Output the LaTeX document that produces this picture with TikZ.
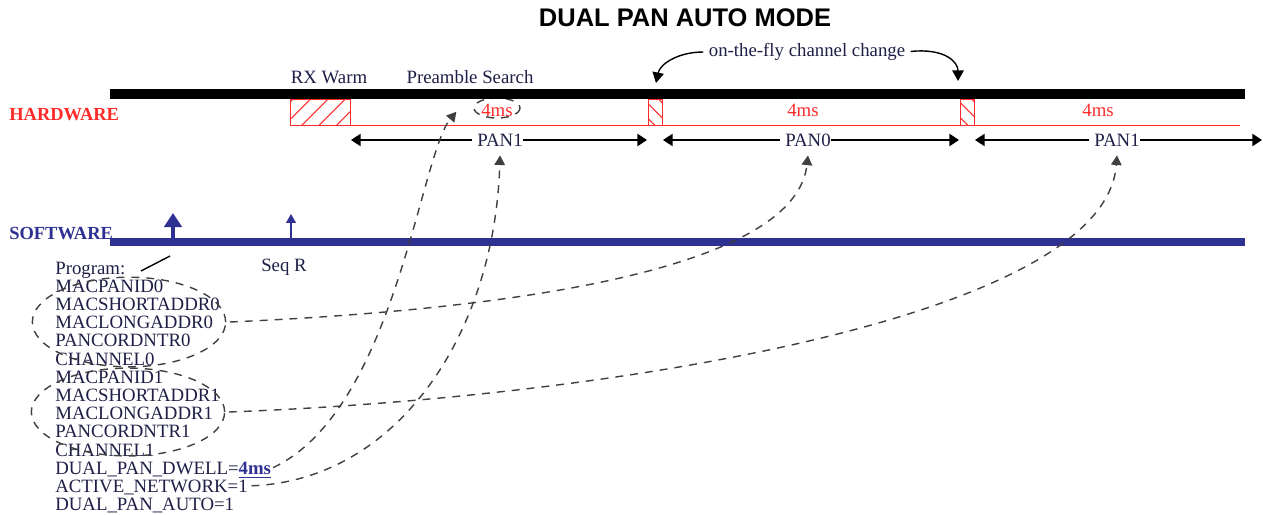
\documentclass[tikz,border=0pt]{standalone}
\usepackage{fontspec}
\setmainfont{Liberation Serif}
\newfontfamily\titlefont{Liberation Sans}
\usetikzlibrary{arrows.meta,patterns.meta,shapes.geometric}

\begin{document}
\begin{tikzpicture}[x=0.02cm, y=-0.02cm,
    lbl/.style={font=\fontsize{10.7}{12}\selectfont, text=txtdark, inner sep=0pt},
    lst/.style={lbl, anchor=base west, text height=7.5pt, text depth=0pt},
    redlbl/.style={font=\fontsize{10.7}{12}\selectfont, text=hwred, inner sep=0pt},
    span/.style={-{Triangle[length=5.5pt, width=7pt]}, thick},
    link/.style={-{Triangle[length=5.5pt, width=6pt]}, dashed, dash pattern=on 4.5pt off 4pt, thick, dimgray},
    group/.style={draw=dimgray, dashed, dash pattern=on 4.5pt off 4pt, thick, ellipse, inner sep=0pt}
]

    % Color definition
    \definecolor{hwred}{HTML}{FF2A2A}
    \definecolor{swblue}{HTML}{2E3192}
    \definecolor{txtdark}{HTML}{1E1E46}
    \definecolor{dimgray}{HTML}{404040}

    \useasboundingbox (0,0) rectangle (1263,514);

    % === Title ===
    \node[font=\titlefont\bfseries\fontsize{14.5}{16}\selectfont] (title) at (685,18) {DUAL PAN AUTO MODE};

    % === HARDWARE timeline ===
    \node[font=\bfseries\fontsize{10.5}{12}\selectfont, text=hwred, anchor=west, inner sep=0pt] (hw) at (9,115) {HARDWARE};
    % small dashed ring round the first dwell (drawn under the bar)
    \draw[dimgray, dashed, dash pattern=on 4.5pt off 4pt, thick] (497,108) ellipse [x radius=23, y radius=10];
    \draw[line width=5.6pt] (110,94) -- (1245,94);

    % Warm-up and channel switch slots (hatched)
    \draw[hwred, pattern={Lines[angle=45, distance=7pt, line width=0.6pt]}, pattern color=hwred] (290,99) rectangle (350,125);
    \draw[hwred, pattern={Lines[angle=-45, distance=6pt, line width=0.6pt]}, pattern color=hwred] (648,99) rectangle (662,125);
    \draw[hwred, pattern={Lines[angle=-45, distance=6pt, line width=0.6pt]}, pattern color=hwred] (960,99) rectangle (974,125);
    \draw[hwred] (350,125) -- (1240,125);

    \node[lbl] (rxwarm) at (329,77) {RX Warm};
    \node[lbl] (preamble) at (470,77) {Preamble Search};
    \node[redlbl] (dwell0) at (497,110) {4ms};
    \node[redlbl] (dwell1) at (803,110) {4ms};
    \node[redlbl] (dwell2) at (1098,110) {4ms};

    % on-the-fly channel change
    \node[lbl] (otf) at (807,52) {on-the-fly channel change};
    \coordinate (chg0) at (656,83);
    \coordinate (chg1) at (958,81);
    \draw[-{Triangle[length=6pt, width=6.5pt]}, thick, shorten <=3pt] (otf.west) .. controls (678,52) and (660,64) .. (chg0);
    \draw[-{Triangle[length=6pt, width=6.5pt]}, thick, shorten <=3pt] (otf.east) .. controls (945,48) and (958,62) .. (chg1);

    % PAN windows
    \node[lbl] (pan1a) at (500,140) {PAN1};
    \node[lbl] (pan0) at (808,140) {PAN0};
    \node[lbl] (pan1b) at (1117,140) {PAN1};
    \coordinate (a0l) at (351,140); \coordinate (a0r) at (647,140);
    \coordinate (a1l) at (663,140); \coordinate (a1r) at (959,140);
    \coordinate (a2l) at (975,140); \coordinate (a2r) at (1262,140);
    \draw[span] ([xshift=-3pt]pan1a.west) -- (a0l);
    \draw[span] (pan1a.east) -- (a0r);
    \draw[span] ([xshift=-3pt]pan0.west) -- (a1l);
    \draw[span] (pan0.east) -- (a1r);
    \draw[span] ([xshift=-3pt]pan1b.west) -- (a2l);
    \draw[span] (pan1b.east) -- (a2r);

    % === SOFTWARE timeline ===
    \node[font=\bfseries\fontsize{10.5}{12}\selectfont, text=swblue, anchor=west, inner sep=0pt] (sw) at (9,234) {SOFTWARE};
    \draw[swblue, line width=4pt] (110,242) -- (1245,242);
    \draw[swblue, -{Triangle[length=8pt, width=10pt]}, line width=1.8pt] (173,242) -- (173,213);
    \draw[swblue, -{Triangle[length=5pt, width=5.5pt]}, line width=0.7pt] (291,242) -- (291,214);
    \node[lbl] (seqr) at (284,267) {Seq R};

    % Register list
    \foreach \i/\t in {0/Program:, 1/MACPANID0, 2/MACSHORTADDR0, 3/MACLONGADDR0, 4/PANCORDNTR0,
        5/CHANNEL0, 6/MACPANID1, 7/MACSHORTADDR1, 8/MACLONGADDR1, 9/PANCORDNTR1, 10/CHANNEL1,
        11/{DUAL\_PAN\_DWELL=\textcolor{swblue}{\textbf{\underline{4ms}}}}, 12/ACTIVE\_NETWORK=1, 13/DUAL\_PAN\_AUTO=1}
        \node[lst] (prog\i) at (55,274+18.2*\i) {\t};

    \coordinate (tick0) at (141,271);
    \coordinate (tick1) at (170,256);
    \draw[thick] (tick0) -- (tick1);

    % Register groups
    \node[group, minimum width=110pt, minimum height=51pt] (grp0) at (129,322) {};
    \node[group, minimum width=110pt, minimum height=50pt] (grp1) at (128,412) {};

    % Links from registers to the timeline
    \draw[link] ([xshift=2pt]grp0.east) .. controls (500,310) and (795,272) .. ([yshift=-5pt]pan0.south);
    \draw[link] ([xshift=2pt]grp1.east) .. controls (600,398) and (1105,320) .. ([yshift=-5pt]pan1b.south);
    \draw[link] ([xshift=1pt]prog11.east) .. controls (395,410) and (420,155) .. ([xshift=-14pt, yshift=-1pt]dwell0.west);
    \draw[link] ([xshift=2pt]prog12.east) .. controls (400,480) and (495,330) .. ([yshift=-5pt]pan1a.south);

\end{tikzpicture}
\end{document}
